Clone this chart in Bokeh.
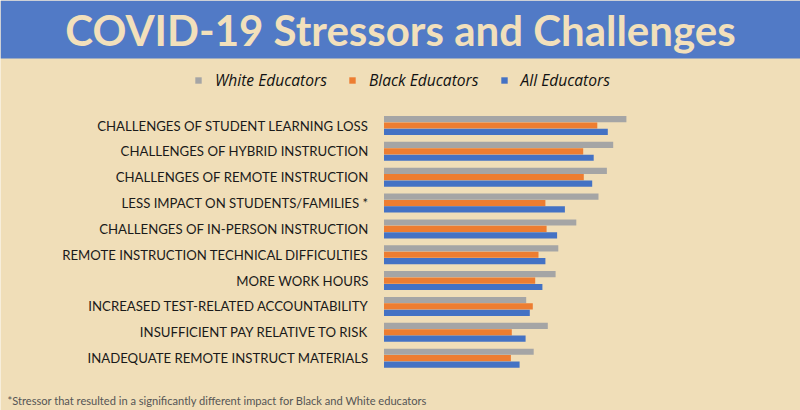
from bokeh.plotting import figure
from bokeh.models import ColumnDataSource, Range1d, BoxAnnotation, Label, Legend, LegendItem
from bokeh.transform import dodge
from bokeh.core.properties import value
from bokeh.embed import file_html
from bokeh.resources import INLINE

# ---- data (top to bottom) ----
categories = [
    "CHALLENGES OF STUDENT LEARNING LOSS",
    "CHALLENGES OF HYBRID INSTRUCTION",
    "CHALLENGES OF REMOTE INSTRUCTION",
    "LESS IMPACT ON STUDENTS/FAMILIES *",
    "CHALLENGES OF IN-PERSON INSTRUCTION",
    "REMOTE INSTRUCTION TECHNICAL DIFFICULTIES",
    "MORE WORK HOURS",
    "INCREASED TEST-RELATED ACCOUNTABILITY",
    "INSUFFICIENT PAY RELATIVE TO RISK",
    "INADEQUATE REMOTE INSTRUCT MATERIALS",
]
white_educators = [80.8, 76.4, 74.3, 71.5, 64.1, 58.1, 57.2, 47.4, 54.6, 49.9]
black_educators = [71.1, 66.4, 66.6, 53.8, 54.2, 51.5, 50.4, 49.6, 42.6, 42.3]
all_educators = [74.6, 69.9, 69.4, 60.3, 57.7, 53.8, 52.8, 48.6, 47.2, 45.2]
series_names = ["White Educators", "Black Educators", "All Educators"]

title_text = "COVID-19 Stressors and Challenges"
footnote_text = "*Stressor that resulted in a significantly different impact for Black and White educators"

# ---- style ----
BG = "#F0DEB8"
BAND = "#517AC6"
TITLE_C = "#F2E0BB"
GRAY = "#A5A5A5"
ORANGE = "#ED7D31"
BLUE = "#4472C4"

W, H = 800, 410
X0, XS = 383.5, 3.0     # pixel of zero, pixels per unit
Y0, YS = 125.0, 25.85   # pixel of first row centre, pixels per row


def px_x(px):
    return (px - X0) / XS


def px_y(py):
    return (py - Y0) / YS


src = ColumnDataSource(dict(
    row=list(range(len(categories))),
    cat=categories,
    white=white_educators,
    black=black_educators,
    all=all_educators,
))

p = figure(width=W, height=H, output_backend="svg", toolbar_location=None,
           x_range=Range1d(px_x(0), px_x(W)),
           y_range=Range1d(px_y(H), px_y(0)),
           x_axis_location=None, y_axis_location=None,
           min_border=0, outline_line_color=None,
           background_fill_color=BG, border_fill_color=BG)
p.xgrid.visible = False
p.ygrid.visible = False

band = BoxAnnotation(top=px_y(0), bottom=px_y(58), fill_color=BAND, fill_alpha=1.0,
                     line_color=None, level="underlay")
p.add_layout(band)

bh = 6.2 / YS
off = 6.4 / YS
r_w = p.hbar(y=dodge("row", -off), left=0, right="white", height=bh, source=src,
             fill_color=GRAY, line_color=None)
r_b = p.hbar(y=dodge("row", 0), left=0, right="black", height=bh, source=src,
             fill_color=ORANGE, line_color=None)
r_a = p.hbar(y=dodge("row", off), left=0, right="all", height=bh, source=src,
             fill_color=BLUE, line_color=None)

p.text(x=px_x(368), y="row", text="cat", source=src, text_align="right",
       text_baseline="middle", text_font=value("Lato"), text_font_size="13.2px",
       text_color="#1A1A1A")

p.add_layout(Label(x=px_x(400), y=px_y(29), text=title_text, text_align="center",
                   text_baseline="middle", text_font="Lato", text_font_style="bold",
                   text_font_size="42px", text_color=TITLE_C))

p.add_layout(Label(x=px_x(7), y=px_y(399.5), text=footnote_text, text_align="left",
                   text_baseline="middle", text_font="Lato", text_font_size="11.1px",
                   text_color="#555555"))

legend = Legend(items=[LegendItem(label=series_names[0], renderers=[r_w]),
                       LegendItem(label=series_names[1], renderers=[r_b]),
                       LegendItem(label=series_names[2], renderers=[r_a])],
                orientation="horizontal", location=(194, H - 73 - 18),
                glyph_width=8, glyph_height=8, label_standoff=13, spacing=21,
                padding=0, margin=0, border_line_color=None,
                background_fill_alpha=0, label_text_font="Open Sans",
                label_text_font_style="italic", label_text_font_size="15.6px",
                label_height=18, label_text_color="#111111")
p.add_layout(legend, "center")

html = file_html(p, INLINE)
html = html.replace("<head>", "<head><style>html,body{margin:0;padding:0;}</style>", 1)
open("out.html", "w").write(html)
